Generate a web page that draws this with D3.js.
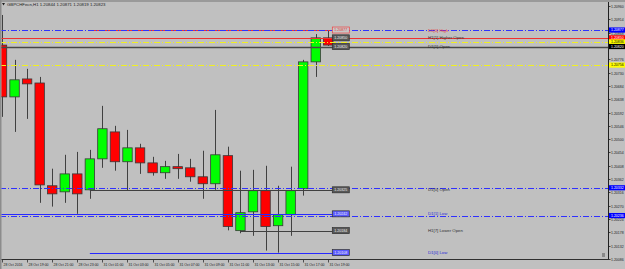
<!DOCTYPE html>
<html>
<head>
<meta charset="utf-8">
<script src="https://cdn.jsdelivr.net/npm/d3@7"></script>
<style>
body { margin: 0; background: #c0c0c0; }
svg text { font-family: "Liberation Sans", Arial, sans-serif; }
.wick { stroke: #404040; stroke-width: 1px; }
.body { stroke: #383838; stroke-width: 0.8px; }
</style>
</head>
<body>
<svg id="chart" width="625" height="269"></svg>
<script>

/// H1 bars, 28 Oct 17:00 .. 31 Oct 19:00
var times = ["28 Oct 17:00","28 Oct 18:00","28 Oct 19:00","28 Oct 20:00","28 Oct 21:00","28 Oct 22:00","28 Oct 23:00",
  "31 Oct 00:00","31 Oct 01:00","31 Oct 02:00","31 Oct 03:00","31 Oct 04:00","31 Oct 05:00","31 Oct 06:00",
  "31 Oct 07:00","31 Oct 08:00","31 Oct 09:00","31 Oct 10:00","31 Oct 11:00","31 Oct 12:00","31 Oct 13:00",
  "31 Oct 14:00","31 Oct 15:00","31 Oct 16:00","31 Oct 17:00","31 Oct 18:00","31 Oct 19:00"];
var open  = [1.20825,1.20646,1.20708,1.20694,1.20339,1.20318,1.20380,1.20325,1.20432,1.20525,1.20422,1.20470,1.20418,1.20384,
  1.20405,1.20401,1.20370,1.20346,1.20443,1.20184,1.20249,1.20322,1.20201,1.20239,1.20329,1.20767,1.20850];
var high  = [1.20929,1.20774,1.20743,1.20715,1.20398,1.20446,1.20456,1.20463,1.20615,1.20546,1.20532,1.20484,1.20439,1.20425,
  1.20449,1.20432,1.20460,1.20601,1.20474,1.20391,1.20394,1.20408,1.20339,1.20405,1.20774,1.20863,1.20874];
var low   = [1.20577,1.20525,1.20570,1.20280,1.20267,1.20280,1.20242,1.20294,1.20401,1.20391,1.20322,1.20380,1.20374,1.20363,
  1.20363,1.20353,1.20294,1.20325,1.20185,1.20175,1.20166,1.20115,1.20108,1.20166,1.20305,1.20715,1.20822];
var close = [1.20646,1.20705,1.20691,1.20342,1.20311,1.20380,1.20311,1.20432,1.20536,1.20422,1.20470,1.20418,1.20384,1.20405,
  1.20398,1.20370,1.20346,1.20446,1.20198,1.20246,1.20322,1.20198,1.20239,1.20322,1.20767,1.20850,1.20825];

var timeLabels = ["28 Oct 2016","28 Oct 19:00","28 Oct 21:00","28 Oct 23:00","31 Oct 01:00","31 Oct 03:00","31 Oct 05:00",
  "31 Oct 07:00","31 Oct 09:00","31 Oct 11:00","31 Oct 13:00","31 Oct 15:00","31 Oct 17:00","31 Oct 19:00"];
var priceTicks = [1.20960,1.20914,1.20868,1.20822,1.20776,1.20730,1.20684,1.20638,1.20592,1.20546,
  1.20500,1.20454,1.20408,1.20362,1.20316,1.20270,1.20224,1.20178,1.20132,1.20086];

/// labelled levels (line starts at bar levelStart)
var levelNames  = ["D1[0] High","H1[1] Higher Open","D1[1] Open","D1[0] Open","D1[1] Low","H1[7] Lower Open","D1[0] Low"];
var levelPrices = [1.20877,1.20850,1.20820,1.20325,1.20242,1.20184,1.20108];
var levelStart  = [7,25,25,7,0,19,7];

/// full width indicator lines
var axisLevels = [1.20877,1.20850,1.20836,1.20820,1.20756,1.20332,1.20236];

var title = "GBPCHFecn,H1  1.20844 1.20871 1.20819 1.20823";

var svg = d3.select("#chart"),
    plotRight = 608, plotBottom = 259.5;

var step = 12.55;
var x = d3.scaleBand()
    .domain(times)
    .range([2 - step / 2, 2 - step / 2 + step * times.length])
    .paddingInner(0.25).paddingOuter(0.125);
var xc = function(t) { return x(t) + x.bandwidth() / 2; };

var y = d3.scaleLinear()
    .domain([priceTicks[priceTicks.length - 1], priceTicks[0]])
    .range([259, 6]);

var fmt = d3.format(".5f");

/// frame
svg.append("rect").attr("width", 625).attr("height", 269).attr("fill", "#c0c0c0");
svg.append("rect").attr("width", 625).attr("height", 2).attr("fill", "#9a9a9a");
svg.append("rect").attr("width", 1.5).attr("height", 269).attr("fill", "#8c8c8c");

svg.append("clipPath").attr("id", "plotclip")
  .append("rect").attr("x", 1.5).attr("y", 2).attr("width", plotRight - 1.5).attr("height", plotBottom - 2);

var g = svg.append("g").attr("clip-path", "url(#plotclip)");

var bars = d3.range(times.length);

/// wicks
g.selectAll(".wick").data(bars).enter().append("line")
    .attr("class", "wick")
    .attr("x1", function(i) { return Math.round(xc(times[i])) + 0.5; })
    .attr("x2", function(i) { return Math.round(xc(times[i])) + 0.5; })
    .attr("y1", function(i) { return y(high[i]); })
    .attr("y2", function(i) { return y(low[i]); });

/// bodies
g.selectAll(".body").data(bars).enter().append("rect")
    .attr("class", "body")
    .attr("x", function(i) { return x(times[i]); })
    .attr("width", x.bandwidth())
    .attr("y", function(i) { return y(Math.max(open[i], close[i])); })
    .attr("height", function(i) { return Math.max(1.5, Math.abs(y(open[i]) - y(close[i]))); })
    .attr("fill", function(i) { return close[i] >= open[i] ? "#00ff00" : "#ff0000"; });

/// level segments ending in price boxes
var boxX = xc(times[times.length - 1]) + 4, boxW = 17, boxH = 6;
function kind(name) {
  if (/High$/.test(name)) return "high";
  if (/Low$/.test(name)) return "low";
  return "open";
}
var segColor = {high: "#f03030", low: "#2828ff", open: "#404040"};
var textColor = {high: "#e83838", low: "#2a2ad8", open: "#303030"};
var boxFill = {high: "#c8c8c8", low: "#5a5aff", open: "#585858"};

levelNames.forEach(function(name, i) {
  var yy = Math.round(y(levelPrices[i])) + 0.5;
  g.append("line")
    .attr("x1", levelStart[i] === 0 ? 0 : xc(times[levelStart[i]]))
    .attr("x2", boxX)
    .attr("y1", yy).attr("y2", yy)
    .attr("stroke", segColor[kind(name)]).attr("stroke-width", 1);
});

/// full width lines
var lineStyles = [
  {c: "#3030ff", d: "6,2,1,2", w: 1},
  {c: "#f03030", d: null, w: 1},
  {c: "#f0f020", d: "6,2,1,2", w: 1},
  {c: "#484848", d: null, w: 1.6},
  {c: "#f0f020", d: "6,2,1,2", w: 1},
  {c: "#3030ff", d: "6,2,1,2", w: 1},
  {c: "#3030ff", d: "6,2,1,2", w: 1}
];
axisLevels.forEach(function(p, i) {
  var s = lineStyles[i], yy = Math.round(y(p)) + 0.5;
  g.append("line")
    .attr("x1", 0).attr("x2", plotRight)
    .attr("y1", yy).attr("y2", yy)
    .attr("stroke", s.c).attr("stroke-width", s.w)
    .attr("stroke-dasharray", s.d);
});

/// level texts and boxes
levelNames.forEach(function(name, i) {
  var yy = y(levelPrices[i]);
  var k = kind(name);
  g.append("text")
    .attr("x", 428).attr("y", yy + 1.6)
    .attr("font-size", 4.3)
    .attr("fill", textColor[k])
    .text(name);
  g.append("rect")
    .attr("x", boxX).attr("y", yy - boxH / 2)
    .attr("width", boxW).attr("height", boxH)
    .attr("fill", boxFill[k]).attr("stroke", k === "high" ? "#f04040" : "#303030").attr("stroke-width", 0.7);
  g.append("text")
    .attr("x", boxX + boxW / 2).attr("y", yy + 1.3)
    .attr("text-anchor", "middle").attr("font-size", 3.6)
    .attr("fill", k === "high" ? "#e03030" : "#f0f0f0")
    .text(fmt(levelPrices[i]));
});

/// price axis
svg.append("line").attr("x1", plotRight + 0.5).attr("x2", plotRight + 0.5)
  .attr("y1", 2).attr("y2", plotBottom).attr("stroke", "#202020");
var yAxis = svg.append("g");
priceTicks.forEach(function(p) {
  var yy = Math.round(y(p)) + 0.5;
  yAxis.append("line").attr("x1", plotRight).attr("x2", plotRight + 2.5)
    .attr("y1", yy).attr("y2", yy).attr("stroke", "#202020").attr("stroke-width", 0.8);
  yAxis.append("text").attr("x", 611).attr("y", yy + 1.3)
    .attr("font-size", 3.5).attr("fill", "#202020").text(fmt(p));
});
var tagStyles = [
  {bg: "#0000ff", fg: "#ffffff"}, {bg: "#ff0000", fg: "#ffffff"}, {bg: "#ffff00", fg: "#000000"},
  {bg: "#000000", fg: "#ffffff"}, {bg: "#ffff00", fg: "#000000"}, {bg: "#0000ff", fg: "#ffffff"},
  {bg: "#0000ff", fg: "#ffffff"}
];
axisLevels.forEach(function(p, i) {
  var yy = y(p);
  yAxis.append("rect").attr("x", plotRight + 1).attr("y", yy - 2.6)
    .attr("width", 625 - plotRight - 1).attr("height", 5.2).attr("fill", tagStyles[i].bg);
  yAxis.append("text").attr("x", 611).attr("y", yy + 1.3)
    .attr("font-size", 3.5).attr("fill", tagStyles[i].fg).text(fmt(p));
});

/// time axis
svg.append("line").attr("x1", 1.5).attr("x2", plotRight + 0.5)
  .attr("y1", plotBottom).attr("y2", plotBottom).attr("stroke", "#303030");
var xAxis = svg.append("g");
timeLabels.forEach(function(lbl, k) {
  var xx = Math.round(xc(times[k * 2])) + 0.5;
  xAxis.append("line").attr("x1", xx).attr("x2", xx)
    .attr("y1", plotBottom).attr("y2", plotBottom + 3).attr("stroke", "#303030").attr("stroke-width", 0.8);
  xAxis.append("text").attr("x", xx + 1).attr("y", 265.5)
    .attr("font-size", 3.5).attr("fill", "#202020").text(lbl);
});

/// title
svg.append("path").attr("d", "M2,3 L5,3 L3.5,5.5 Z").attr("fill", "#202020");
svg.append("text").attr("x", 7).attr("y", 5.8)
  .attr("font-size", 4.3).attr("fill", "#202020").text(title);

/// small scroll marker, bottom right
svg.append("rect").attr("x", 602).attr("y", 253).attr("width", 3).attr("height", 4).attr("fill", "#8a8a8a");

</script>
</body>
</html>
